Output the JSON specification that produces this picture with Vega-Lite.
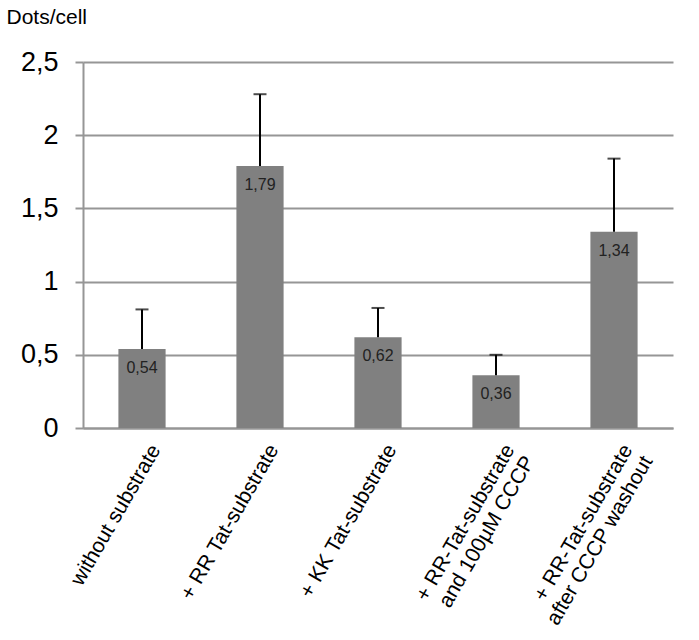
{
  "$schema": "https://vega.github.io/schema/vega-lite/v6.json",
  "width": 590,
  "height": 366,
  "autosize": "none",
  "padding": {"left": 83, "top": 62, "right": 26, "bottom": 212},
  "background": "white",
  "config": {
    "view": {"stroke": null},
    "font": "Liberation Sans"
  },
  "data": {
    "values": [
      {"cond": "without substrate", "value": 0.54, "hi": 0.81, "label": "0,54"},
      {"cond": "+ RR Tat-substrate", "value": 1.79, "hi": 2.28, "label": "1,79"},
      {"cond": "+ KK Tat-substrate", "value": 0.62, "hi": 0.82, "label": "0,62"},
      {"cond": "+ RR-Tat-substrate|and 100µM CCCP", "value": 0.36, "hi": 0.50, "label": "0,36"},
      {"cond": "+ RR-Tat-substrate|after CCCP washout", "value": 1.34, "hi": 1.84, "label": "1,34"}
    ]
  },
  "encoding": {
    "x": {
      "field": "cond",
      "type": "nominal",
      "sort": null,
      "scale": {"paddingInner": 0.6, "paddingOuter": 0.3},
      "axis": {
        "title": null,
        "labelExpr": "split(datum.value, '|')",
        "labelAngle": -60,
        "labelAlign": "right",
        "labelBaseline": "middle",
        "labelFontSize": 21,
        "labelColor": "#000000",
        "labelPadding": 18,
        "labelOffset": 14,
        "labelLineHeight": 23,
        "labelLimit": 0,
        "labelOverlap": false,
        "ticks": false,
        "domainColor": "#969696",
        "domainWidth": 2,
        "grid": false
      }
    }
  },
  "layer": [
    {
      "mark": {"type": "bar", "color": "#808080"},
      "encoding": {
        "y": {
          "field": "value",
          "type": "quantitative",
          "scale": {"domain": [0, 2.5], "nice": false},
          "axis": {
            "values": [0, 0.5, 1, 1.5, 2, 2.5],
            "format": "~g",
            "labelExpr": "replace(datum.label, '.', ',')",
            "labelFontSize": 27,
            "labelColor": "#000000",
            "labelPadding": 17,
            "tickSize": 8,
            "tickColor": "#969696",
            "tickWidth": 2,
            "domainColor": "#969696",
            "domainWidth": 2,
            "grid": true,
            "gridColor": "#969696",
            "gridWidth": 2,
            "title": "Dots/cell",
            "titleAngle": 0,
            "titleAlign": "left",
            "titleBaseline": "alphabetic",
            "titleX": -77,
            "titleY": -39,
            "titleFontSize": 21,
            "titleFontWeight": "normal",
            "titleColor": "#000000"
          }
        }
      }
    },
    {
      "mark": {"type": "rule", "color": "#000000", "strokeWidth": 2},
      "encoding": {
        "y": {"field": "value", "type": "quantitative"},
        "y2": {"field": "hi"}
      }
    },
    {
      "mark": {"type": "tick", "color": "#000000", "size": 13, "thickness": 2},
      "encoding": {
        "y": {"field": "hi", "type": "quantitative"}
      }
    },
    {
      "mark": {"type": "text", "fontSize": 16, "color": "#222222", "baseline": "middle", "dy": 19},
      "encoding": {
        "y": {"field": "value", "type": "quantitative"},
        "text": {"field": "label"}
      }
    }
  ]
}
